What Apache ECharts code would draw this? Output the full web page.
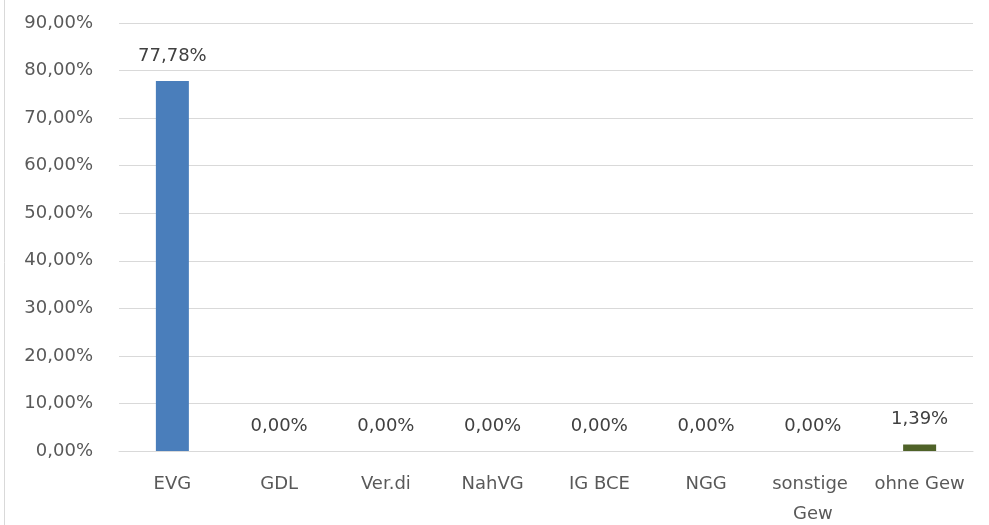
<!DOCTYPE html>
<html>
<head>
<meta charset="utf-8">
<script src="https://cdn.jsdelivr.net/npm/echarts@6/dist/echarts.min.js"></script>
<style>
  html, body { margin: 0; padding: 0; background: #fff; }
  #chart { width: 989px; height: 525px; }
</style>
</head>
<body>
<div id="chart"></div>
<script>
// Daten
const categories = ["EVG", "GDL", "Ver.di", "NahVG", "IG BCE", "NGG", "sonstige Gew", "ohne Gew"];
const shares = [77.78, 0, 0, 0, 0, 0, 0, 1.39];
const barColors = ["#4a7ebb", "#4a7ebb", "#4a7ebb", "#4a7ebb", "#4a7ebb", "#4a7ebb", "#4a7ebb", "#4f6228"];

function pct(v) {
    return v.toFixed(2).replace(".", ",") + "%";
}

const chart = echarts.init(document.getElementById("chart"));

chart.setOption({
    animation: false,
    textStyle: { fontFamily: "DejaVu Sans" },
    graphic: [{
        type: "line",
        shape: { x1: 4.5, y1: 0, x2: 4.5, y2: 525 },
        style: { stroke: "#d9d9d9", lineWidth: 1 }
    }],
    grid: {
        left: 119,
        right: 16,
        top: 23,
        bottom: 74,
        outerBoundsMode: "none"
    },
    xAxis: {
        type: "category",
        data: categories,
        axisTick: { show: false },
        axisLine: { lineStyle: { color: "#d9d9d9" } },
        axisLabel: {
            color: "#595959",
            fontSize: 18,
            margin: 18,
            width: 104,
            overflow: "break",
            lineHeight: 30,
            interval: 0
        }
    },
    yAxis: {
        type: "value",
        min: 0,
        max: 90,
        interval: 10,
        axisLine: { show: false },
        axisTick: { show: false },
        splitLine: { lineStyle: { color: "#d9d9d9" } },
        axisLabel: {
            color: "#595959",
            fontSize: 18,
            margin: 26,
            formatter: pct
        }
    },
    series: [{
        type: "bar",
        barWidth: 33,
        data: shares.map((v, i) => ({ value: v, itemStyle: { color: barColors[i] } })),
        label: {
            show: true,
            position: "top",
            distance: 16,
            color: "#404040",
            fontSize: 18,
            formatter: p => pct(p.value)
        }
    }]
});
</script>
</body>
</html>
